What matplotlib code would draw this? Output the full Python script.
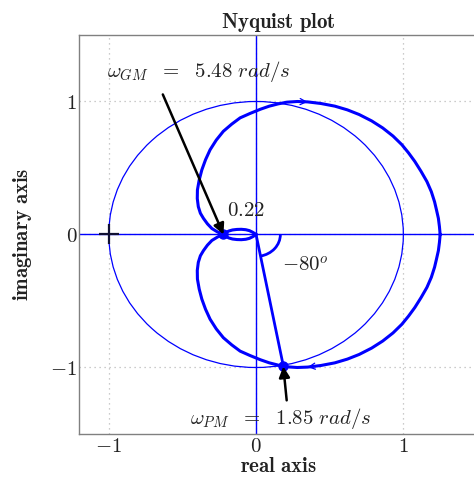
import numpy as np
import matplotlib
matplotlib.use('Agg')
import matplotlib.pyplot as plt
from matplotlib.patches import Circle, Arc

plt.rcParams['mathtext.fontset'] = 'cm'

# Nyquist curve, positive frequencies:
# starts on the real axis at 1.25, runs clockwise below the axis,
# crosses the negative real axis at -0.22, then a small petal to the origin
re_pos = [1.250, 1.245, 1.238, 1.225, 1.212, 1.190, 1.160, 1.120, 1.078, 1.035,
          0.990, 0.930, 0.860, 0.785, 0.700, 0.620, 0.535, 0.440, 0.350, 0.280,
          0.210, 0.150, 0.090, 0.030, -0.041, -0.108, -0.165, -0.222, -0.270, -0.312,
          -0.343, -0.368, -0.386, -0.398, -0.399, -0.392, -0.378, -0.357, -0.330, -0.300,
          -0.260, -0.221,
          -0.205, -0.185, -0.160, -0.130, -0.100, -0.070, -0.045, -0.025, -0.010, 0.0]
im_pos = [0.0, -0.060, -0.121, -0.185, -0.246, -0.322, -0.398, -0.475, -0.549, -0.614,
          -0.675, -0.740, -0.801, -0.854, -0.902, -0.937, -0.965, -0.985, -0.997, -1.000,
          -0.995, -0.982, -0.965, -0.942, -0.910, -0.877, -0.830, -0.776, -0.710, -0.637,
          -0.562, -0.486, -0.410, -0.335, -0.270, -0.209, -0.160, -0.121, -0.080, -0.045,
          -0.018, 0.0,
          0.015, 0.026, 0.034, 0.038, 0.039, 0.036, 0.029, 0.018, 0.008, 0.0]

# margins
gm_re, gm_im, w_gm = -0.221, 0.0, 5.48
pm_re, pm_im, w_pm = 0.185, -0.987, 1.85
pm_angle = -80

re_pos = np.array(re_pos)
im_pos = np.array(im_pos)
# negative frequencies = mirror image
re_neg = re_pos[::-1]
im_neg = -im_pos[::-1]
n = len(re_pos)

fig = plt.figure(figsize=(4.74, 4.82), dpi=100)
ax = fig.add_axes([0.1673, 0.0996, 0.839, 0.8278])

blue = '#0000ff'
ax.axhline(0, color=blue, lw=1.0, zorder=2)
ax.axvline(0, color=blue, lw=1.0, zorder=2)

# unit circle
ax.add_patch(Circle((0, 0), 1, fill=False, ec=blue, lw=0.9, zorder=3))

# curve
ax.plot(re_pos, im_pos, color=blue, lw=2.2, zorder=4, solid_joinstyle='round')
ax.plot(re_neg, im_neg, color=blue, lw=2.2, zorder=4, solid_joinstyle='round')

# direction arrows on the curve
arr = dict(arrowstyle='->', color=blue, lw=0.9, mutation_scale=11, shrinkA=0, shrinkB=0)
ax.annotate('', xy=(re_neg[n - 1 - 18], im_neg[n - 1 - 18]),
            xytext=(re_neg[n - 1 - 19], im_neg[n - 1 - 19]), arrowprops=arr, zorder=5)
ax.annotate('', xy=(re_pos[18], im_pos[18]), xytext=(re_pos[17], im_pos[17]),
            arrowprops=arr, zorder=5)

# critical point
ax.plot(-1, 0, '+', color='#111133', ms=14, mew=1.6, zorder=6)

# phase margin line and arc
ax.plot([0, pm_re], [0, pm_im], color=blue, lw=2.0, zorder=4)
ax.add_patch(Arc((0, 0), 0.33, 0.33, theta1=pm_angle, theta2=0, color=blue, lw=2.0, zorder=4))

# margin points
ax.plot([gm_re, pm_re], [gm_im, pm_im], 'o', color=blue, ms=6.5, zorder=6)

# black arrows + labels
ax.annotate('', xy=(gm_re, gm_im), xytext=(-0.633, 1.053),
            arrowprops=dict(arrowstyle='-|>', color='k', lw=1.8, mutation_scale=16,
                            shrinkA=0, shrinkB=0), zorder=7)
ax.annotate('', xy=(pm_re, pm_im - 0.005), xytext=(0.208, -1.247),
            arrowprops=dict(arrowstyle='-|>', color='k', lw=1.8, mutation_scale=16,
                            shrinkA=0, shrinkB=0), zorder=7)

tc = '#222222'
fs = 15
ax.text(-1.012, 1.229, r'$\omega_{GM}\ \ \mathbf{=}\ \ \mathbf{%.2f}\ rad/s$' % w_gm,
        fontsize=fs, color=tc, va='center', ha='left')
ax.text(-0.447, -1.383, r'$\omega_{PM}\ \ \mathbf{=}\ \ \mathbf{%.2f}\ rad/s$' % w_pm,
        fontsize=fs, color=tc, va='center', ha='left')
ax.text(-0.2, 0.184, r'$\mathbf{%.2f}$' % abs(gm_re), fontsize=fs, color=tc, va='center', ha='left')
ax.text(0.174, -0.232, r'$\mathbf{-%d}^{o}$' % abs(pm_angle), fontsize=fs, color=tc,
        va='center', ha='left')

ax.set_xlim(-1.2, 1.5)
ax.set_ylim(-1.5, 1.5)
ticks = [-1, 0, 1]
ax.set_xticks(ticks)
ax.set_yticks(ticks)
ax.set_xticklabels([r'$\mathbf{%d}$' % t for t in ticks], fontsize=fs, color=tc)
ax.set_yticklabels([r'$\mathbf{%d}$' % t for t in ticks], fontsize=fs, color=tc)
ax.tick_params(length=0, pad=1.5)
ax.grid(True, color='#bbbbbb', lw=0.9, linestyle=(0, (1, 3)))
for s in ax.spines.values():
    s.set_color('#808080')
    s.set_linewidth(1.0)

ax.set_title(r'$\mathbf{Nyquist\ plot}$', fontsize=fs, color=tc, pad=5)
ax.set_xlabel(r'$\mathbf{real\ axis}$', fontsize=fs, color=tc, labelpad=0)
ax.set_ylabel(r'$\mathbf{imaginary\ axis}$', fontsize=fs, color=tc, labelpad=12)

fig.savefig('out.png', dpi=100)
